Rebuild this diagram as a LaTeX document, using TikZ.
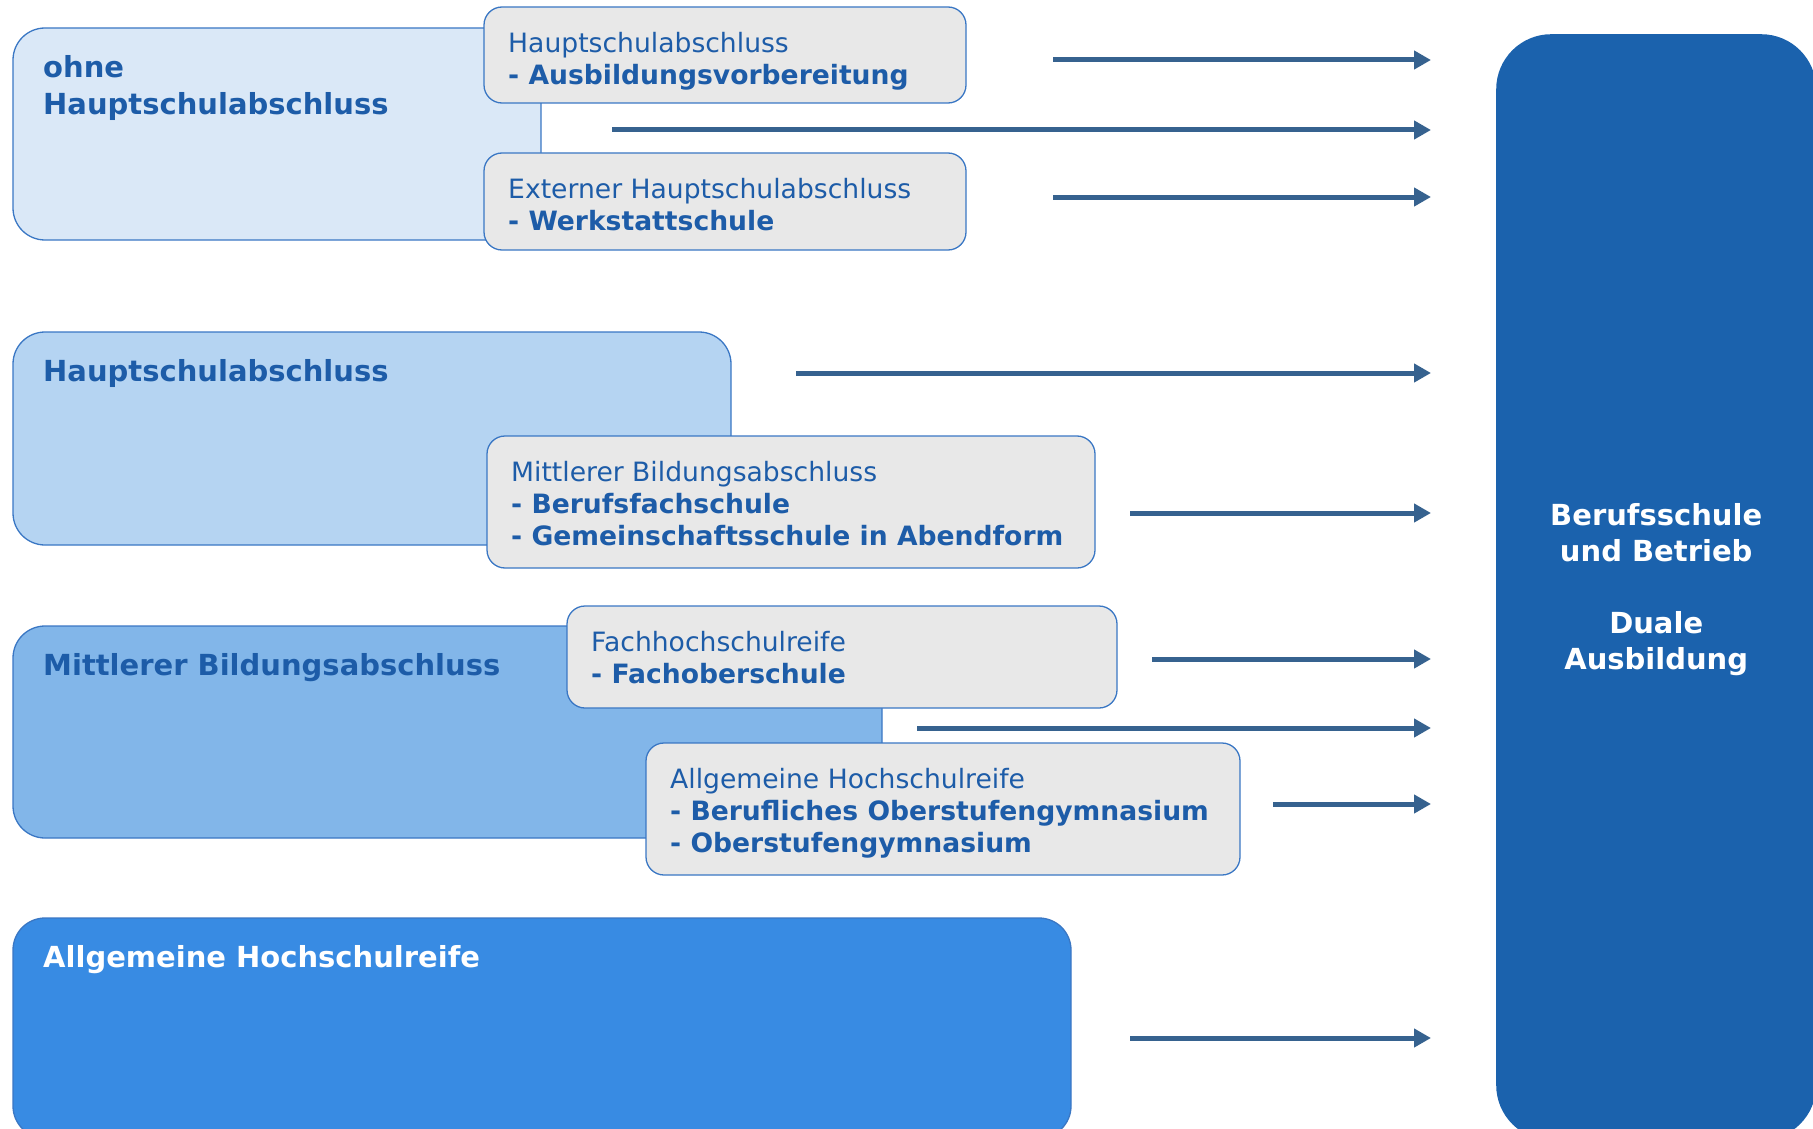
\documentclass[tikz,border=0pt]{standalone}
\usepackage{fontspec}
\setmainfont{DejaVu Sans}
\usetikzlibrary{arrows.meta,positioning}
\definecolor{stufeA}{HTML}{DAE8F7}
\definecolor{stufeB}{HTML}{B5D4F2}
\definecolor{stufeC}{HTML}{82B6E9}
\definecolor{stufeD}{HTML}{388BE3}
\definecolor{dual}{HTML}{1B62AD}
\definecolor{rand}{HTML}{3A77C4}
\definecolor{wegfill}{HTML}{E8E8E8}
\definecolor{schrift}{HTML}{1D5CA8}
\definecolor{pfeil}{HTML}{36628F}
\tikzset{
  stufe/.style={draw=rand, line width=1.3pt, rounded corners=32pt, anchor=north west, inner sep=0pt, outer sep=0pt},
  weg/.style={stufe, fill=wegfill, rounded corners=18pt},
  titel/.style={anchor=north west, inner sep=0pt, align=left, text=schrift, font=\fontsize{29}{37}\selectfont\bfseries},
  wegtext/.style={anchor=north west, inner sep=0pt, align=left, text=schrift, font=\fontsize{26.6}{32}\selectfont},
  pfeilstil/.style={draw=pfeil, line width=5pt, -{Triangle[length=17pt,width=18pt]}},
}
\begin{document}
\begin{tikzpicture}[x=1pt,y=-1pt]
\useasboundingbox (0,0) rectangle (1813,1129);
\clip (0,0) rectangle (1813,1129);
% Abschluesse (links)
\node[stufe, fill=stufeA, minimum width=528pt, minimum height=212pt] (ohne) at (13,28) {};
\node[titel] (ohneT) at ([shift={(30,27)}]ohne.north west) {ohne\\Hauptschulabschluss};
\node[stufe, fill=stufeB, minimum width=718pt, minimum height=213pt] (hsa) at (13,332) {};
\node[titel] (hsaT) at ([shift={(30,27)}]hsa.north west) {Hauptschulabschluss};
\node[stufe, fill=stufeC, minimum width=869pt, minimum height=212pt] (mba) at (13,626) {};
\node[titel] (mbaT) at ([shift={(30,27)}]mba.north west) {Mittlerer Bildungsabschluss};
\node[stufe, fill=stufeD, minimum width=1058pt, minimum height=220pt] (ahr) at (13,918) {};
\node[titel, text=white] (ahrT) at ([shift={(30,27)}]ahr.north west) {Allgemeine Hochschulreife};
% Bildungsgaenge
\node[weg, minimum width=482pt, minimum height=96pt] (avb) at (484,7) {};
\node[wegtext] (avbT) at ([shift={(24,25)}]avb.north west) {Hauptschulabschluss\\\textbf{- Ausbildungsvorbereitung}};
\node[weg, minimum width=482pt, minimum height=97pt] (wks) at (484,153) {};
\node[wegtext] (wksT) at ([shift={(24,25)}]wks.north west) {Externer Hauptschulabschluss\\\textbf{- Werkstattschule}};
\node[weg, minimum width=608pt, minimum height=132pt] (bfs) at (487,436) {};
\node[wegtext] (bfsT) at ([shift={(24,25)}]bfs.north west) {Mittlerer Bildungsabschluss\\\textbf{- Berufsfachschule}\\\textbf{- Gemeinschaftsschule in Abendform}};
\node[weg, minimum width=550pt, minimum height=102pt] (fos) at (567,606) {};
\node[wegtext] (fosT) at ([shift={(24,25)}]fos.north west) {Fachhochschulreife\\\textbf{- Fachoberschule}};
\node[weg, minimum width=594pt, minimum height=132pt] (gym) at (646,743) {};
\node[wegtext] (gymT) at ([shift={(24,25)}]gym.north west) {Allgemeine Hochschulreife\\\textbf{- Berufliches Oberstufengymnasium}\\\textbf{- Oberstufengymnasium}};
% Duale Ausbildung (rechts)
\node[fill=dual, rounded corners=55pt, anchor=north west, inner sep=0pt, minimum width=320pt, minimum height=1106pt] (duale) at (1496,34) {};
\node[text=white, align=center, font=\fontsize{29}{36}\selectfont\bfseries] (dualeT) at ([yshift=-2pt]duale) {Berufsschule\\und Betrieb\\[36pt]Duale\\Ausbildung};
% Pfeile
\foreach \n/\xa/\ya in {1/1053/60, 2/612/130, 3/1053/197, 4/796/373, 5/1130/513, 6/1152/659, 7/917/728, 8/1273/804, 9/1130/1038}{
  \coordinate (a\n) at (\xa,\ya);
  \coordinate (b\n) at (1431,\ya);
  \draw[pfeilstil] (a\n) -- (b\n);
}
\end{tikzpicture}
\end{document}
